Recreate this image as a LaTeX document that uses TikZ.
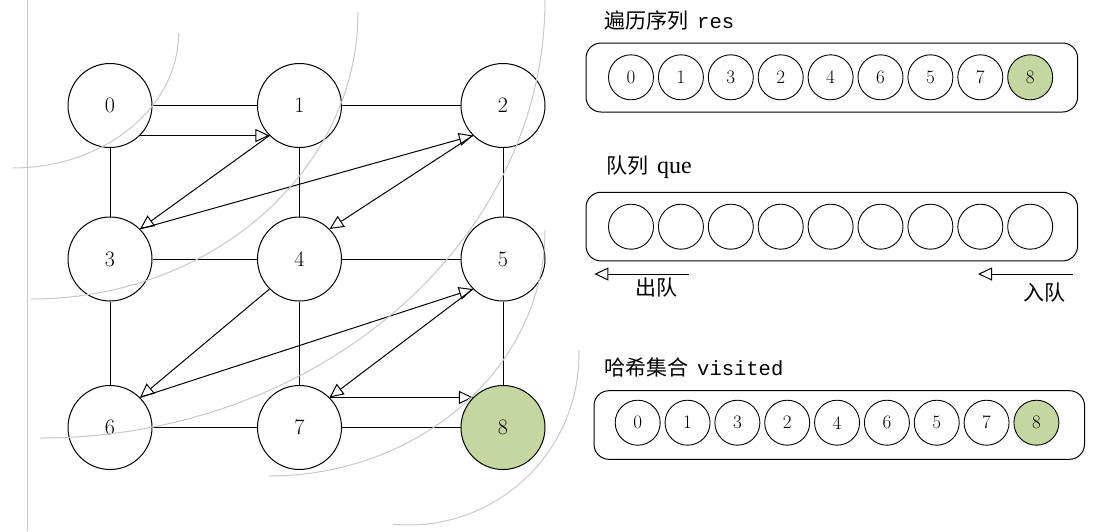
\documentclass[tikz,border=0pt]{standalone}
\usepackage{fontspec}
\newfontfamily\cjk{Noto Sans CJK SC}
\newfontfamily\monof{Liberation Mono}
\newfontfamily\seriff{Liberation Serif}
\usetikzlibrary{arrows.meta}
\definecolor{vgreen}{RGB}{196,215,160}
\definecolor{arcgray}{RGB}{200,200,200}
\begin{document}
\begin{tikzpicture}[x=1pt,y=-1pt,
  gnode/.style={circle,draw=black,line width=1pt,minimum size=84pt,inner sep=0pt,font=\fontsize{22}{22}\selectfont},
  snode/.style={circle,draw=black,line width=0.9pt,minimum size=45pt,inner sep=0pt,font=\fontsize{19}{19}\selectfont},
  visit/.style={fill=vgreen},
  edge/.style={line width=1pt},
  trav/.style={line width=1pt,-{Triangle[length=14pt,width=13pt,fill=white]}},
  panel/.style={draw,rounded corners=15pt,line width=1pt,inner sep=0pt},
  title/.style={anchor=west,inner sep=0pt,font=\fontsize{21}{21}\selectfont},
  cjklbl/.style={inner sep=0pt,font=\fontsize{21}{21}\selectfont\cjk},
  wave/.style={arcgray,line width=1pt}
]
\useasboundingbox (0,0) rectangle (1119,531);

% graph nodes
\node[gnode] (n0) at (110,105.5) {0};
\node[gnode] (n1) at (299.5,105.5) {1};
\node[gnode] (n2) at (503,105.5) {2};
\node[gnode] (n3) at (110,259) {3};
\node[gnode] (n4) at (299.5,259) {4};
\node[gnode] (n5) at (503,259) {5};
\node[gnode] (n6) at (110,427.5) {6};
\node[gnode] (n7) at (299.5,427.5) {7};
\node[gnode,visit] (n8) at (503,427.5) {8};

% grid edges
\draw[edge] (n0) -- (n1);
\draw[edge] (n1) -- (n2);
\draw[edge] (n3) -- (n4);
\draw[edge] (n4) -- (n5);
\draw[edge] (n6) -- (n7);
\draw[edge] (n7) -- (n8);
\draw[edge] (n0) -- (n3);
\draw[edge] (n3) -- (n6);
\draw[edge] (n1) -- (n4);
\draw[edge] (n4) -- (n7);
\draw[edge] (n2) -- (n5);
\draw[edge] (n5) -- (n8);

% traversal arrows
\draw[trav] (n0.-45) -- (n1.-135);
\draw[trav] (n1.-135) -- (n3.45);
\draw[trav] (n3.45) -- (n2.-135);
\draw[trav] (n2.-135) -- (n4.45);
\draw[trav] (n4.-135) -- (n6.45);
\draw[trav] (n6.45) -- (n5.-135);
\draw[trav] (n5.-135) -- (n7.45);
\draw[trav] (n7.45) -- (n8.135);

% wavefront arcs
\draw[wave] (27,0) -- (27,531);
\draw[wave] (178.6,33) arc[start angle=0,end angle=90,x radius=166,y radius=135];
\draw[wave] (358,12) arc[start angle=0,end angle=90,x radius=327,y radius=287];
\draw[wave] (545,0) arc[start angle=0,end angle=90,x radius=505,y radius=438];
\draw[wave] (545,230) arc[start angle=0,end angle=90,x radius=276.4,y radius=246];
\draw[wave] ([shift={(-1.5:170.6)}]408.4,354.4) arc[start angle=-1.5,end angle=95.2,radius=170.6];

% res panel
\node[title] (restitle) at (604,21) {{\cjk 遍历序列}\hspace{9pt}{\monof\fontsize{20.5}{20.5}\selectfont res}};
\node[panel,minimum width=491.6pt,minimum height=69pt] (resbox) at (831.8,77.5) {};
\foreach \v [count=\i from 0] in {0,1,3,2,4,6,5,7} {
  \node[snode] (r\i) at ({631+49.9*\i},77.3) {\v};
}
\node[snode,visit] (r8) at (1030.2,77.3) {8};

% queue panel
\node[title] (quetitle) at (606,167) {{\cjk 队列}\hspace{9pt}{\seriff\fontsize{24}{24}\selectfont que}};
\node[panel,minimum width=491.6pt,minimum height=68.7pt] (quebox) at (831.8,226.6) {};
\foreach \i in {0,...,8} {
  \node[snode] (q\i) at ({631+49.9*\i},226.7) {};
}
\coordinate (outS) at (689,274);
\coordinate (outE) at (594.4,274);
\draw[trav] (outS) -- (outE);
\node[cjklbl] (outlbl) at (656.5,288) {出队};
\coordinate (inS) at (1073,274);
\coordinate (inE) at (978,274);
\draw[trav] (inS) -- (inE);
\node[cjklbl] (inlbl) at (1044,292.5) {入队};

% visited panel
\node[title] (vistitle) at (604,368) {{\cjk 哈希集合}\hspace{9pt}{\monof\fontsize{20.5}{20.5}\selectfont visited}};
\node[panel,minimum width=490.5pt,minimum height=68.6pt] (visbox) at (839.25,425) {};
\foreach \v [count=\i from 0] in {0,1,3,2,4,6,5,7} {
  \node[snode] (v\i) at ({637.7+49.84*\i},422.7) {\v};
}
\node[snode,visit] (v8) at (1036.4,422.7) {8};
\end{tikzpicture}
\end{document}
